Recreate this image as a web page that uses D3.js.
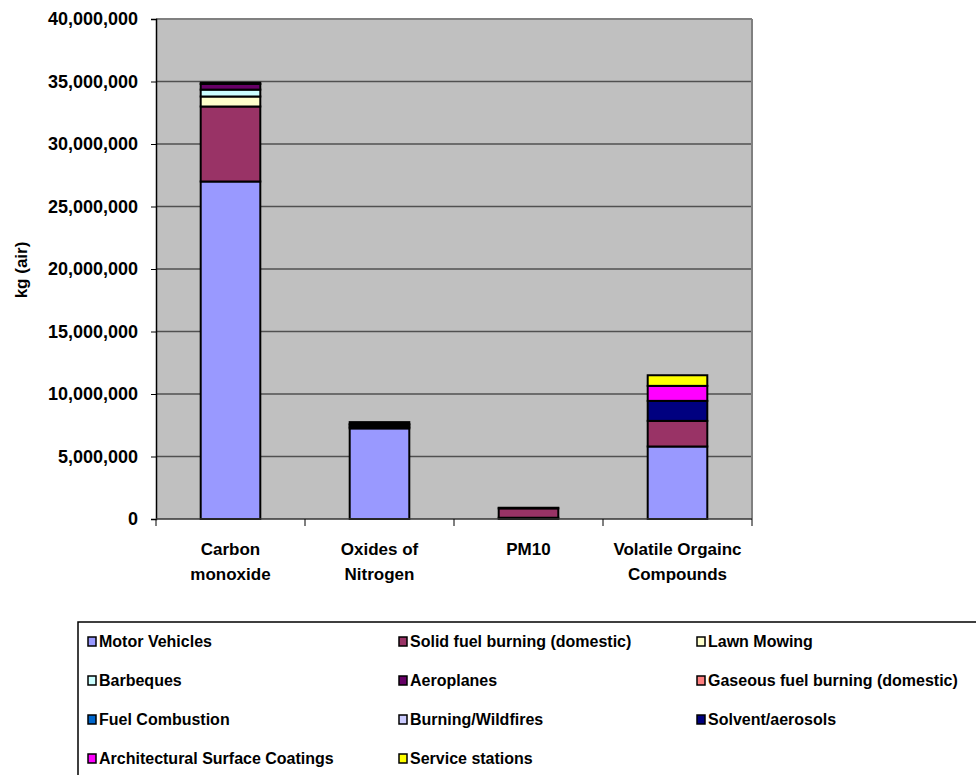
<!DOCTYPE html>
<html>
<head>
<meta charset="utf-8">
<script src="https://cdn.jsdelivr.net/npm/d3@7"></script>
<style>
  html, body { margin: 0; padding: 0; background: #fff; }
  svg { display: block; }
  text { font-family: "Liberation Sans", Arial, sans-serif; font-weight: bold; fill: #000; }
</style>
</head>
<body>
<svg id="chart" width="976" height="775"></svg>
<script>
// ---- Data ----
const categories = ["Carbon monoxide", "Oxides of Nitrogen", "PM10", "Volatile Orgainc Compounds"];
const categoryLines = [["Carbon", "monoxide"], ["Oxides of", "Nitrogen"], ["PM10"], ["Volatile Orgainc", "Compounds"]];
const seriesNames = [
  "Motor Vehicles", "Solid fuel burning (domestic)", "Lawn Mowing",
  "Barbeques", "Aeroplanes", "Gaseous fuel burning (domestic)",
  "Fuel Combustion", "Burning/Wildfires", "Solvent/aerosols",
  "Architectural Surface Coatings", "Service stations"
];
const motorVehicles   = [27000000, 7250000, 100000, 5800000];
const solidFuel       = [6000000, 100000, 750000, 2050000];
const lawnMowing      = [800000, 0, 0, 0];
const barbeques       = [550000, 0, 0, 0];
const aeroplanes      = [450000, 150000, 0, 0];
const gaseousFuel     = [100000, 100000, 0, 0];
const fuelCombustion  = [0, 150000, 0, 0];
const burningWildfire = [0, 0, 50000, 0];
const solventAerosols = [0, 0, 0, 1600000];
const archCoatings    = [0, 0, 0, 1200000];
const serviceStations = [0, 0, 0, 850000];
const seriesValues = [motorVehicles, solidFuel, lawnMowing, barbeques, aeroplanes, gaseousFuel,
  fuelCombustion, burningWildfire, solventAerosols, archCoatings, serviceStations];
const seriesColors = ["#9999FF", "#993366", "#FFFFCC", "#CCFFFF", "#660066", "#FF8080",
  "#0066CC", "#CCCCFF", "#000080", "#FF00FF", "#FFFF00"];
const yTicks = [0, 5000000, 10000000, 15000000, 20000000, 25000000, 30000000, 35000000, 40000000];
const yTitle = "kg (air)";

// ---- Layout ----
const svg = d3.select("#chart");
const plot = { left: 156, right: 752, top: 19, bottom: 519 };

const x = d3.scaleBand().domain(categories).range([plot.left, plot.right]).paddingInner(0.6).paddingOuter(0.3);
const xEdges = d3.scaleBand().domain(categories).range([plot.left, plot.right]).padding(0);
const y = d3.scaleLinear().domain([0, 40000000]).range([plot.bottom, plot.top]);

// background
svg.append("rect").attr("x", plot.left).attr("y", plot.top)
  .attr("width", plot.right - plot.left).attr("height", plot.bottom - plot.top)
  .attr("fill", "#C0C0C0");

// gridlines
svg.append("g").selectAll("line").data(yTicks.filter(d => d > 0)).join("line")
  .attr("x1", plot.left).attr("x2", plot.right)
  .attr("y1", d => y(d)).attr("y2", d => y(d))
  .attr("stroke", d => d === 40000000 ? "#808080" : "#505050")
  .attr("stroke-width", d => d === 40000000 ? 2 : 1.5);

// right border
svg.append("line").attr("x1", plot.right).attr("x2", plot.right)
  .attr("y1", plot.top).attr("y2", plot.bottom).attr("stroke", "#808080").attr("stroke-width", 2);

// stacked data
const table = categories.map((c, i) => {
  const row = { category: c };
  seriesNames.forEach((s, j) => row[s] = seriesValues[j][i]);
  return row;
});
const stacked = d3.stack().keys(seriesNames)(table);

const barG = svg.append("g");
stacked.forEach((layer, j) => {
  barG.append("g").selectAll("rect")
    .data(layer.filter(d => d[1] - d[0] > 0))
    .join("rect")
    .attr("x", d => x(d.data.category))
    .attr("width", x.bandwidth())
    .attr("y", d => y(d[1]))
    .attr("height", d => y(d[0]) - y(d[1]))
    .attr("fill", seriesColors[j])
    .attr("stroke", "#000")
    .attr("stroke-width", 2);
});

// y axis
const yAxis = d3.axisLeft(y).tickValues(yTicks).tickSize(5).tickPadding(13)
  .tickFormat(d3.format(","));
const yG = svg.append("g").attr("transform", `translate(${plot.left},0)`).call(yAxis);
yG.select(".domain").attr("stroke", "#000").attr("stroke-width", 1.5);
yG.selectAll(".tick line").attr("stroke", "#000");
yG.selectAll(".tick text").style("font-size", "18px").style("font-family", "'Liberation Sans', Arial, sans-serif").style("font-weight", "bold");

// x axis baseline + ticks at category edges
svg.append("line").attr("x1", plot.left).attr("x2", plot.right)
  .attr("y1", plot.bottom).attr("y2", plot.bottom).attr("stroke", "#333").attr("stroke-width", 1.5);
const edges = categories.map(c => xEdges(c)).concat([plot.right]);
svg.append("g").selectAll("line").data(edges).join("line")
  .attr("x1", d => d).attr("x2", d => d)
  .attr("y1", plot.bottom).attr("y2", plot.bottom + 7)
  .attr("stroke", "#000").attr("stroke-width", 1);

// category labels
const xl = svg.append("g");
categories.forEach((c, i) => {
  const cx = xEdges(c) + xEdges.bandwidth() / 2;
  categoryLines[i].forEach((line, k) => {
    xl.append("text").attr("x", cx).attr("y", 555 + k * 25)
      .attr("text-anchor", "middle").style("font-size", "17px").text(line);
  });
});

// y title
svg.append("text").attr("transform", "translate(27,270) rotate(-90)")
  .attr("text-anchor", "middle").style("font-size", "17px").text(yTitle);

// legend
svg.append("path").attr("d", "M78,776 V622 H976").attr("fill", "none").attr("stroke", "#000").attr("stroke-width", 1.5);
const legCols = [88, 399, 697];
const legRows = [642, 681, 720, 759];
const lg = svg.append("g");
seriesNames.forEach((s, j) => {
  const cx = legCols[j % 3], cy = legRows[Math.floor(j / 3)];
  lg.append("rect").attr("x", cx).attr("y", cy - 5).attr("width", 8).attr("height", 9)
    .attr("fill", seriesColors[j]).attr("stroke", "#000").attr("stroke-width", 1.5);
  lg.append("text").attr("x", cx + 11).attr("y", cy + 5).style("font-size", "16px").text(s);
});
</script>
</body>
</html>
